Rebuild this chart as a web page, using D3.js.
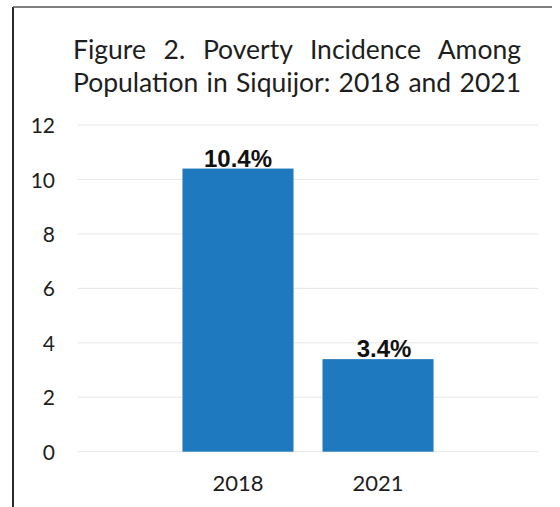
<!DOCTYPE html>
<html>
<head>
<meta charset="utf-8">
<script src="https://cdn.jsdelivr.net/npm/d3@7"></script>
<style>
  html, body { margin: 0; padding: 0; background: #ffffff; }
  svg { display: block; }
</style>
</head>
<body>
<svg id="chart" width="560" height="507"></svg>
<script>
const categories = ["2018", "2021"];
const values = [10.4, 3.4];
const valueLabels = ["10.4%", "3.4%"];
const yTicks = [0, 2, 4, 6, 8, 10, 12];
const titleLines = ["Figure 2. Poverty Incidence Among", "Population in Siquijor: 2018 and 2021"];

const svg = d3.select("#chart");
const W = 560, H = 507;

// frame (scanned page border)
svg.append("line").attr("x1", 13).attr("x2", 13).attr("y1", 7).attr("y2", H)
  .attr("stroke", "#2a2a2a").attr("stroke-width", 2);
svg.append("line").attr("x1", 13).attr("x2", 552).attr("y1", 7).attr("y2", 7)
  .attr("stroke", "#555").attr("stroke-width", 1.5);

const textFont = "Lato, 'Open Sans', sans-serif";

// title (justified lines): measure natural width, then spread words
titleLines.forEach((line, i) => {
  const t = svg.append("text")
    .attr("x", 73)
    .attr("y", 59 + i * 33)
    .attr("font-family", textFont)
    .attr("font-size", 26.5)
    .attr("fill", "#1e1e1e")
    .text(line);
  const nat = t.node().getComputedTextLength();
  const gaps = line.split(" ").length - 1;
  const target = 448;
  if (nat < target) {
    t.attr("word-spacing", (target - nat) / gaps);
  } else {
    t.attr("textLength", target).attr("lengthAdjust", "spacingAndGlyphs");
  }
});

const x = d3.scaleBand().domain(categories).range([78, 538])
  .paddingInner(0.207).paddingOuter(0.746);
const y = d3.scaleLinear().domain([0, 12]).range([451.7, 125]);

// gridlines
svg.append("g").selectAll("line").data(yTicks).enter().append("line")
  .attr("x1", 78).attr("x2", 538)
  .attr("y1", d => y(d)).attr("y2", d => y(d))
  .attr("stroke", "#e6e6e6").attr("stroke-width", 1);

// y axis labels
const yAxis = d3.axisLeft(y).tickValues(yTicks).tickSize(0).tickPadding(0);
const gy = svg.append("g").attr("transform", "translate(55,0)").call(yAxis);
gy.select(".domain").remove();
gy.selectAll("text")
  .attr("font-family", textFont)
  .attr("font-size", 21)
  .attr("fill", "#1e1e1e")
  .attr("dy", "0.36em");

// bars
svg.append("g").selectAll("rect").data(values).enter().append("rect")
  .attr("x", (d, i) => x(categories[i]))
  .attr("width", x.bandwidth())
  .attr("y", d => y(d))
  .attr("height", d => y(0) - y(d))
  .attr("fill", "#1f79bf");

// value labels
svg.append("g").selectAll("text").data(values).enter().append("text")
  .attr("x", (d, i) => x(categories[i]) + x.bandwidth() / 2 + (i === 1 ? 6 : 0))
  .attr("y", d => y(d) - 2)
  .attr("text-anchor", "middle")
  .attr("font-family", "'Liberation Sans', Arial, sans-serif")
  .attr("font-weight", "bold")
  .attr("font-size", 24)
  .attr("fill", "#111")
  .text((d, i) => valueLabels[i]);

// x axis labels
const xAxis = d3.axisBottom(x).tickSize(0).tickPadding(0);
const gx = svg.append("g").attr("transform", "translate(0,491)").call(xAxis);
gx.select(".domain").remove();
gx.selectAll("text")
  .attr("font-family", textFont)
  .attr("font-size", 22)
  .attr("fill", "#1e1e1e")
  .attr("dy", "0");
</script>
</body>
</html>
